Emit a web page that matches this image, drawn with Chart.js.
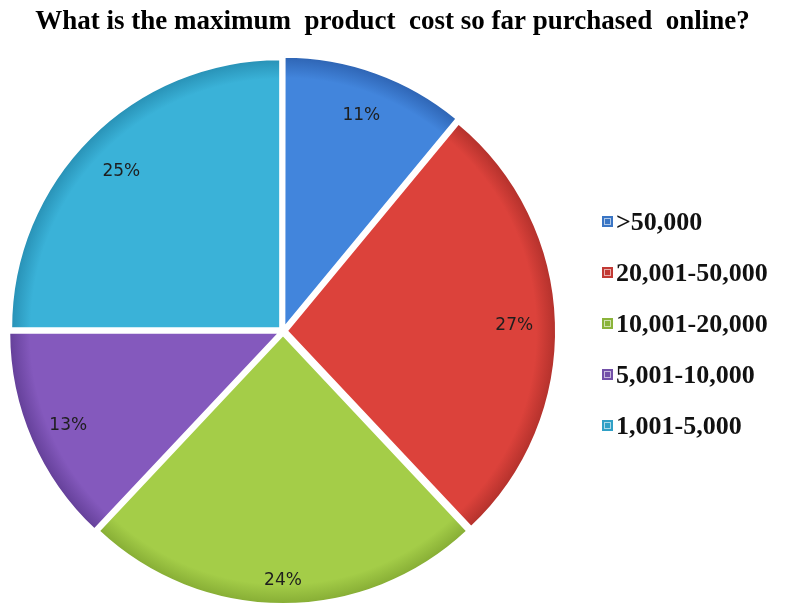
<!DOCTYPE html>
<html>
<head>
<meta charset="utf-8">
<title>Maximum product cost purchased online</title>
<script src="https://cdn.jsdelivr.net/npm/chart.js@4.4.1/dist/chart.umd.min.js"></script>
<style>
  html, body { margin: 0; padding: 0; background: #fff; }
  #wrap { width: 785px; height: 605px; }
</style>
</head>
<body>
<div id="wrap"><canvas id="myChart" width="785" height="605"></canvas></div>
<script>
'use strict';

// data

let chartTitle = 'What is the maximum  product  cost so far purchased  online?';
let costRanges = ['>50,000', '20,001-50,000', '10,001-20,000', '5,001-10,000', '1,001-5,000'];
let percentShares = [11, 27, 24, 13, 25];

// slice colours: inner tone and rim tone
let innerColors = ['#4285dc', '#dc423b', '#a4cd48', '#8459bd', '#3ab2d8'];
let rimColors = ['#2b5fad', '#a92d28', '#7fa530', '#5e3b92', '#2489ad'];
let legendColors = ['#3a75c4', '#c23934', '#8bb43a', '#7350a8', '#2fa0c6'];

// how far out each percent label sits, as a share of the radius
let labelReach = [0.86, 0.86, 0.92, 0.87, 0.85];

// functions

function sliceGradient(context) {
  let chart = context.chart;
  let area = chart.chartArea;
  if (!area) {
    return innerColors[context.dataIndex];
  }
  let cx = (area.left + area.right) / 2;
  let cy = (area.top + area.bottom) / 2;
  let g = chart.ctx.createRadialGradient(cx, cy, 0, cx, cy, 274);
  g.addColorStop(0, innerColors[context.dataIndex]);
  g.addColorStop(0.91, innerColors[context.dataIndex]);
  g.addColorStop(1, rimColors[context.dataIndex]);
  return g;
}

// title across the full canvas width
let wideTitle = {
  id: 'wideTitle',
  afterDraw(chart) {
    let ctx = chart.ctx;
    ctx.save();
    ctx.font = 'bold 27px "Liberation Serif"';
    ctx.fillStyle = '#000000';
    ctx.textAlign = 'center';
    ctx.textBaseline = 'middle';
    ctx.fillText(chartTitle, chart.width / 2, 22);
    ctx.restore();
  }
};

// percent labels inside each slice
let percentLabels = {
  id: 'percentLabels',
  afterDatasetsDraw(chart) {
    let ctx = chart.ctx;
    let meta = chart.getDatasetMeta(0);
    ctx.save();
    ctx.font = '17px "DejaVu Sans"';
    ctx.fillStyle = '#1e1e1e';
    ctx.textAlign = 'center';
    ctx.textBaseline = 'middle';
    meta.data.forEach(function (arc, i) {
      let p = arc.getProps(['x', 'y', 'startAngle', 'endAngle', 'outerRadius'], true);
      let mid = (p.startAngle + p.endAngle) / 2;
      let r = p.outerRadius * labelReach[i];
      ctx.fillText(percentShares[i] + '%', p.x + Math.cos(mid) * r, p.y + Math.sin(mid) * r + 2);
    });
    ctx.restore();
  }
};

// legend to the right of the pie, square swatch close to the text
let sideLegend = {
  id: 'sideLegend',
  afterDraw(chart) {
    let ctx = chart.ctx;
    let area = chart.chartArea;
    let x = area.right + 36;
    let y = area.top + 165;
    ctx.save();
    ctx.font = 'bold 26px "Liberation Serif"';
    ctx.textBaseline = 'middle';
    ctx.textAlign = 'left';
    for (let i = 0; i < costRanges.length; i++) {
      ctx.fillStyle = legendColors[i];
      ctx.fillRect(x, y - 6, 11, 11);
      ctx.strokeStyle = 'rgba(255,255,255,0.6)';
      ctx.lineWidth = 1;
      ctx.strokeRect(x + 2.5, y - 3.5, 6, 6);
      ctx.fillStyle = '#111111';
      ctx.fillText(costRanges[i], x + 14, y + 1);
      y += 51;
    }
    ctx.restore();
  }
};

// chart

const ctx = document.getElementById('myChart');
const config = {
  type: 'pie',
  data: {
    labels: costRanges,
    datasets: [
      {
        data: percentShares,
        backgroundColor: sliceGradient,
        borderColor: '#ffffff',
        borderWidth: 2,
        offset: 16,
        radius: 269,
        clip: false
      }
    ]
  },
  options: {
    responsive: false,
    animation: false,
    layout: {
      padding: { left: 0, right: 219, top: 57, bottom: 0 }
    },
    plugins: {
      title: { display: false },
      legend: { display: false },
      tooltip: { enabled: false }
    }
  },
  plugins: [percentLabels, sideLegend, wideTitle]
};
new Chart(ctx, config);
</script>
</body>
</html>
